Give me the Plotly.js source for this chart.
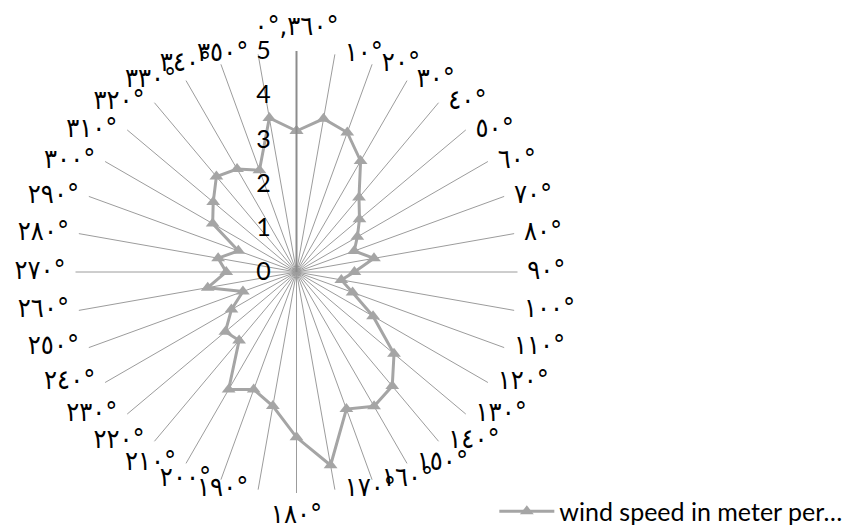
<!DOCTYPE html>
<html>
<head>
<meta charset="utf-8">
<script src="https://cdn.plot.ly/plotly-3.0.1.min.js"></script>
<style>
  html, body { margin: 0; padding: 0; background: #ffffff; }
  #chart { width: 845px; height: 529px; }
</style>
</head>
<body>
<div id="chart"></div>
<script>
// Wind direction sectors (degrees, Arabic-Indic digits)
const directions = [
  '٠°,٣٦٠°', '١٠°', '٢٠°', '٣٠°', '٤٠°', '٥٠°', '٦٠°', '٧٠°', '٨٠°',
  '٩٠°', '١٠٠°', '١١٠°', '١٢٠°', '١٣٠°', '١٤٠°', '١٥٠°', '١٦٠°', '١٧٠°',
  '١٨٠°', '١٩٠°', '٢٠٠°', '٢١٠°', '٢٢٠°', '٢٣٠°', '٢٤٠°', '٢٥٠°', '٢٦٠°',
  '٢٧٠°', '٢٨٠°', '٢٩٠°', '٣٠٠°', '٣١٠°', '٣٢٠°', '٣٣٠°', '٣٤٠°', '٣٥٠°'
];

// Mean wind speed per sector (m/s)
const windSpeed = [
  3.19, 3.52, 3.36, 2.90, 2.20, 1.86, 1.59, 1.39, 1.78,
  1.31, 1.03, 1.35, 2.00, 2.88, 3.37, 3.51, 3.30, 4.44,
  3.74, 3.08, 2.83, 3.07, 2.02, 2.10, 1.70, 1.29, 2.04,
  1.59, 1.80, 1.40, 2.19, 2.46, 2.82, 2.69, 2.45, 3.54
];

const radialTicks = [0, 1, 2, 3, 4, 5];
const seriesName = 'wind speed in meter per…';

const R_MAX = 5;

// close the polygon back to the first sector
const thetaClosed = directions.concat([directions[0]]);
const rClosed = windSpeed.concat([windSpeed[0]]);

// keep each label in left-to-right visual order
const labelText = directions.map(s => '\u202D' + s + '\u202C');

// place each label on the outer side of its spoke end
const n = directions.length;
const labelPos = directions.map((_, i) => {
  const a = (i * 360) / n;
  if (a === 0) return 'top center';
  if (a === 180) return 'bottom center';
  return a < 180 ? 'middle right' : 'middle left';
});

const series = {
  type: 'scatterpolar',
  mode: 'lines+markers',
  name: seriesName,
  theta: thetaClosed,
  r: rClosed,
  line: { color: '#a5a5a5', width: 3 },
  marker: { symbol: 'triangle-up', size: 12, color: '#a5a5a5' },
  cliponaxis: false
};

// category labels anchored at the spoke ends; the invisible marker sets the gap
const categoryLabels = {
  type: 'scatterpolar',
  mode: 'markers+text',
  theta: directions,
  r: directions.map(() => R_MAX),
  text: labelText,
  textposition: labelPos,
  marker: { size: 14, opacity: 0, color: '#ffffff' },
  textfont: { family: '"DejaVu Sans Condensed", "DejaVu Sans", sans-serif', size: 27, color: '#000000' },
  showlegend: false,
  hoverinfo: 'skip',
  cliponaxis: false
};

const layout = {
  width: 845,
  height: 529,
  margin: { l: 0, r: 0, t: 0, b: 0, autoexpand: false },
  paper_bgcolor: '#ffffff',
  font: { family: 'Lato, "DejaVu Sans", sans-serif', color: '#000000' },
  showlegend: true,
  legend: {
    x: 0.585, xanchor: 'left',
    y: 0.033, yanchor: 'middle',
    bgcolor: 'rgba(0,0,0,0)',
    font: { family: 'Lato, sans-serif', size: 25, color: '#000000' },
    itemwidth: 55
  },
  polar: {
    domain: { x: [75.5 / 845, 517.5 / 845], y: [36 / 529, 478 / 529] },
    bgcolor: '#ffffff',
    angularaxis: {
      type: 'category',
      categoryorder: 'array',
      categoryarray: directions,
      rotation: 90,
      direction: 'clockwise',
      showline: false,
      showgrid: true,
      gridcolor: '#9c9c9c',
      gridwidth: 1,
      ticks: '',
      showticklabels: false
    },
    radialaxis: {
      range: [0, R_MAX],
      angle: 90,
      side: 'counterclockwise',
      showgrid: false,
      showline: true,
      linecolor: '#8c8c8c',
      linewidth: 2,
      tickmode: 'array',
      tickvals: radialTicks,
      ticks: 'outside',
      ticklen: 16,
      tickcolor: 'rgba(0,0,0,0)',
      tickfont: { family: 'Lato, sans-serif', size: 25, color: '#000000' },
      tickangle: 90
    }
  }
};

Plotly.newPlot('chart', [categoryLabels, series], layout, { displayModeBar: false, staticPlot: true });
</script>
</body>
</html>
